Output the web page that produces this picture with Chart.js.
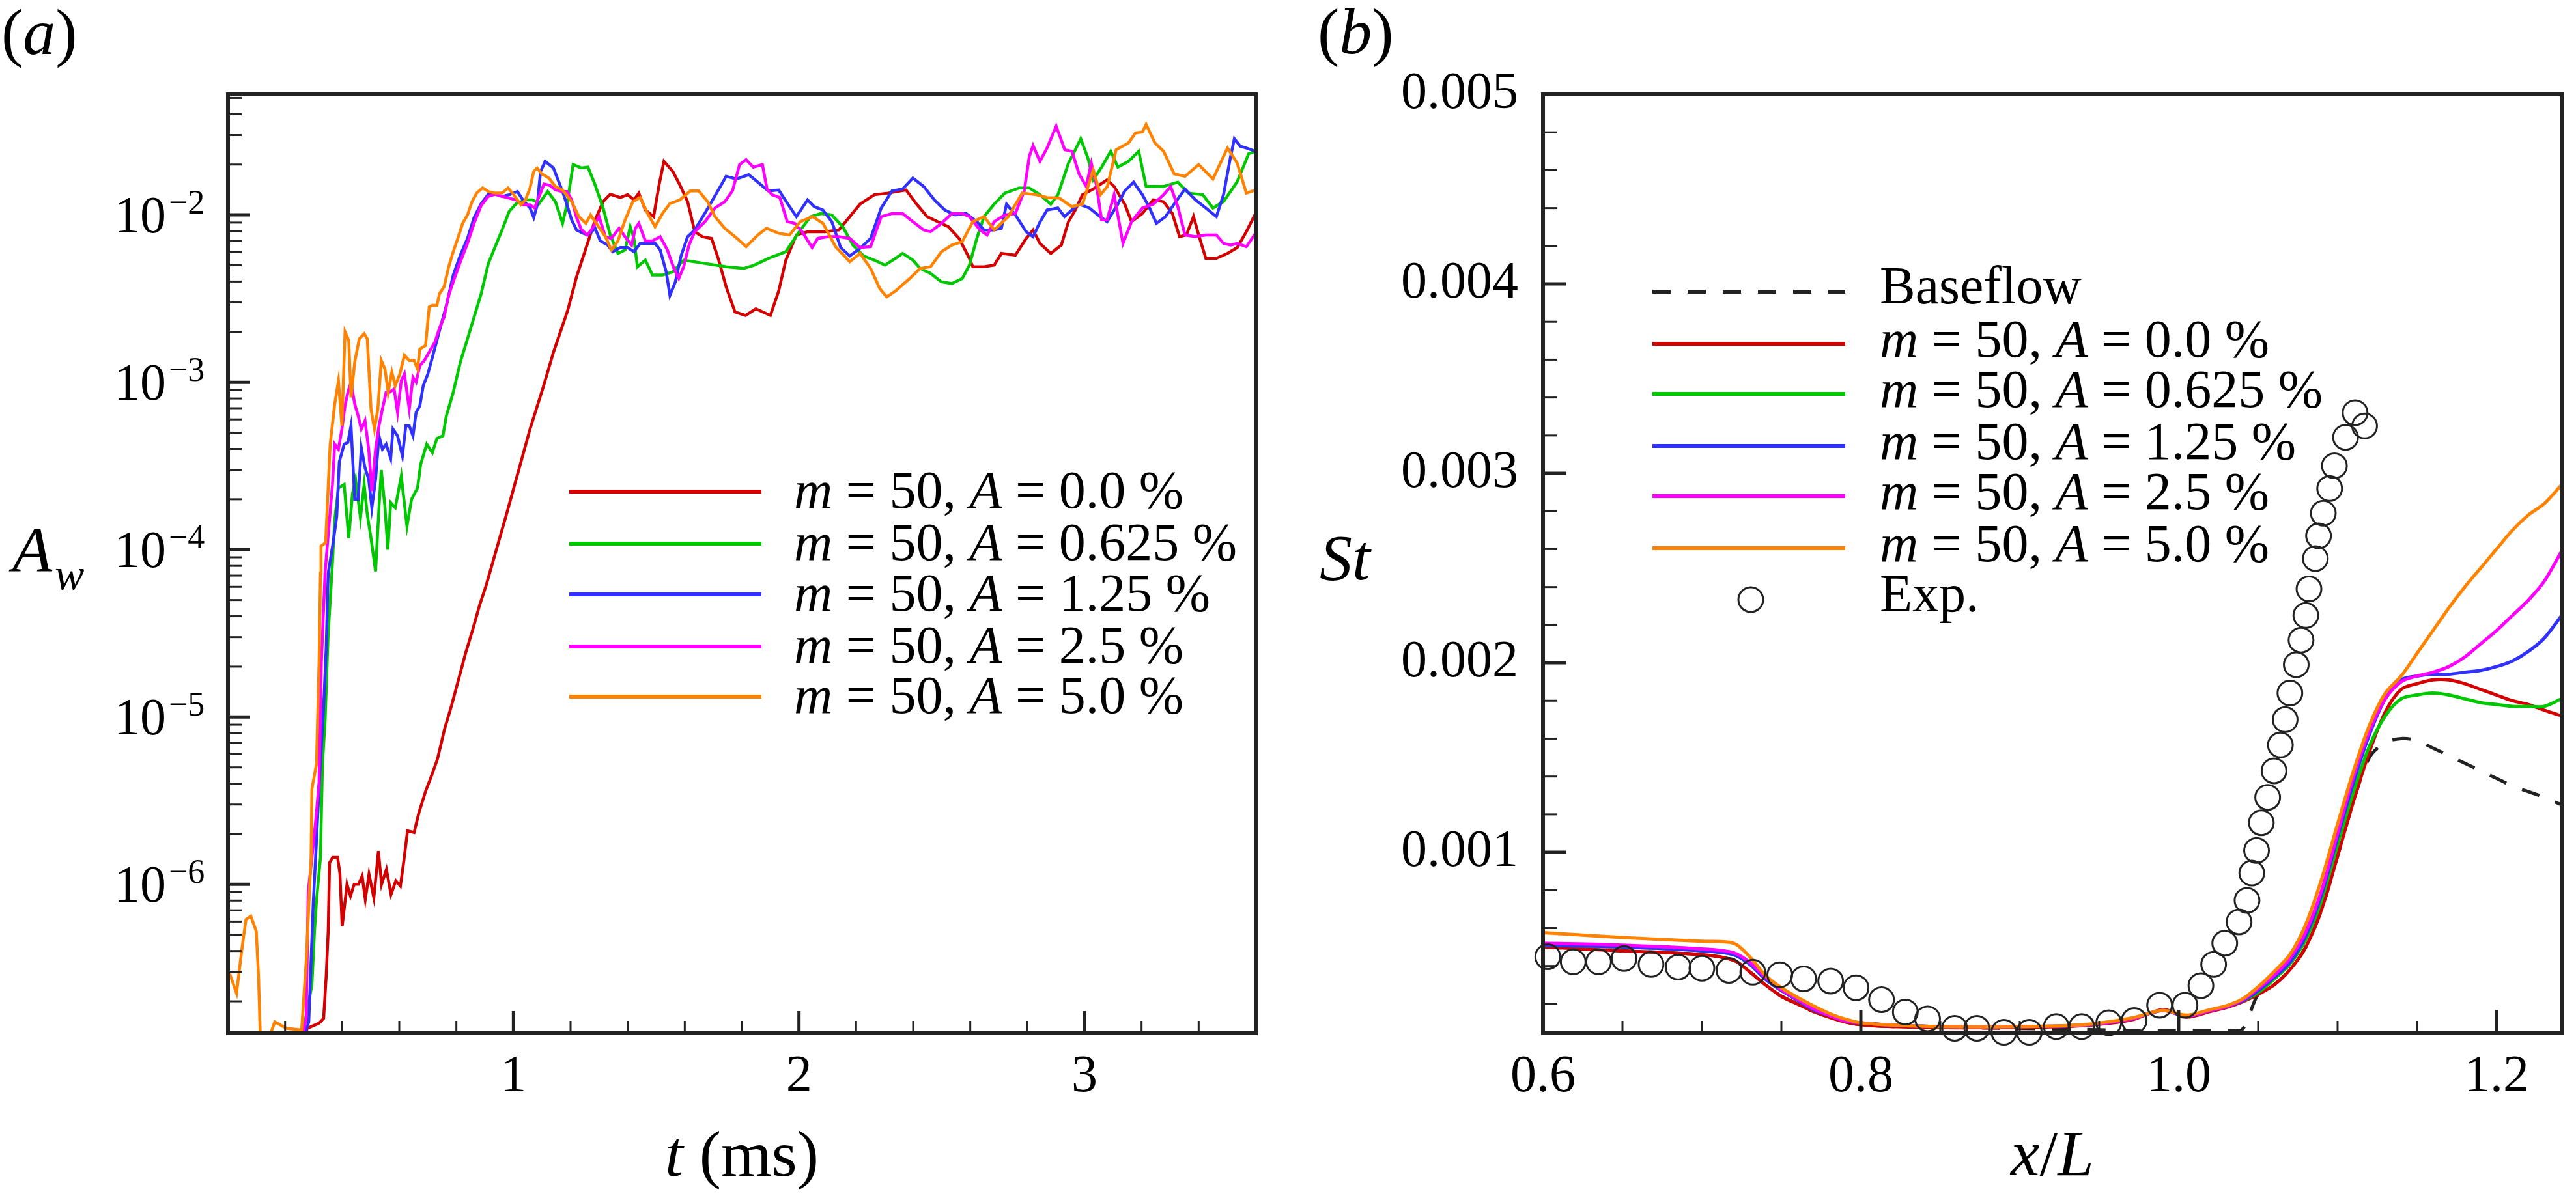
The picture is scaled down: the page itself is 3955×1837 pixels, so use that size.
<!DOCTYPE html>
<html lang="en">
<head>
<meta charset="UTF-8">
<title>Wall amplitude and Stanton number</title>
<script src="https://cdn.jsdelivr.net/npm/chart.js"></script>
<style>
    body {
        margin: 0;
        background: #ffffff;
        width: 3955px;
        height: 1837px;
        overflow: hidden;
        position: relative;
    }
    canvas { position: absolute; top: 0; }
    #chartA { left: 0; width: 1960px; height: 1837px; }
    #chartB { left: 1960px; width: 1995px; height: 1837px; }
</style>
</head>
<body>
<canvas id="chartA" width="1960" height="1837"></canvas>
<canvas id="chartB" width="1995" height="1837"></canvas>
<script>
// ---- panel (a): A_w against t (ms), one pair of arrays per case ----
const redT = [0.250, 0.278, 0.319, 0.335, 0.344, 0.351, 0.356, 0.367, 0.384, 0.392,
    0.400, 0.417, 0.429, 0.442, 0.457, 0.470, 0.481, 0.494, 0.511, 0.527,
    0.538, 0.555, 0.571, 0.588, 0.604, 0.616, 0.629, 0.652, 0.669, 0.693,
    0.709, 0.734, 0.759, 0.783, 0.807, 0.832, 0.857, 0.880, 0.905, 0.977,
    1.058, 1.104, 1.140, 1.190, 1.221, 1.252, 1.286, 1.314, 1.339, 1.374,
    1.400, 1.422, 1.439, 1.462, 1.491, 1.510, 1.527, 1.558, 1.583, 1.610,
    1.635, 1.662, 1.694, 1.719, 1.745, 1.776, 1.813, 1.849, 1.900, 1.929,
    1.954, 1.991, 2.030, 2.091, 2.140, 2.178, 2.214, 2.264, 2.312, 2.375,
    2.412, 2.449, 2.486, 2.523, 2.561, 2.597, 2.609, 2.648, 2.684, 2.709,
    2.758, 2.796, 2.820, 2.844, 2.882, 2.919, 2.944, 2.968, 2.993, 3.031,
    3.079, 3.104, 3.141, 3.165, 3.203, 3.241, 3.277, 3.308, 3.333, 3.357,
    3.382, 3.400, 3.425, 3.462, 3.501, 3.535, 3.567, 3.599];
const redA = [1.0e-7, 1.38e-7, 1.48e-7, 1.58e-7, 2.82e-7, 5.25e-7, 1.35e-6, 1.45e-6, 1.45e-6, 1.17e-6,
    5.62e-7, 1.00e-6, 8.51e-7, 1.00e-6, 1.00e-6, 1.12e-6, 8.13e-7, 1.15e-6, 8.32e-7, 1.58e-6,
    1.00e-6, 1.23e-6, 8.71e-7, 1.05e-6, 9.77e-7, 1.38e-6, 2.09e-6, 2.04e-6, 2.69e-6, 3.63e-6,
    4.27e-6, 5.62e-6, 8.51e-6, 1.17e-5, 1.66e-5, 2.40e-5, 3.31e-5, 4.57e-5, 6.17e-5, 1.66e-4,
    5.25e-4, 9.33e-4, 1.51e-3, 2.69e-3, 4.27e-3, 6.17e-3, 9.33e-3, 1.20e-2, 1.33e-2, 1.27e-2,
    1.32e-2, 1.23e-2, 1.35e-2, 1.07e-2, 9.77e-3, 1.51e-2, 2.09e-2, 1.82e-2, 1.51e-2, 1.20e-2,
    7.94e-3, 7.41e-3, 7.24e-3, 5.37e-3, 3.72e-3, 2.63e-3, 2.51e-3, 2.75e-3, 2.51e-3, 3.51e-3,
    5.37e-3, 7.59e-3, 7.94e-3, 7.94e-3, 8.13e-3, 9.77e-3, 1.16e-2, 1.32e-2, 1.35e-2, 1.41e-2,
    1.16e-2, 9.77e-3, 9.12e-3, 8.51e-3, 7.24e-3, 5.50e-3, 4.90e-3, 4.90e-3, 5.01e-3, 5.89e-3,
    5.75e-3, 7.24e-3, 8.13e-3, 6.76e-3, 5.89e-3, 6.61e-3, 9.12e-3, 1.07e-2, 1.32e-2, 1.43e-2,
    1.62e-2, 1.48e-2, 1.16e-2, 9.12e-3, 1.02e-2, 1.23e-2, 1.20e-2, 1.02e-2, 7.41e-3, 7.59e-3,
    9.77e-3, 7.59e-3, 5.50e-3, 5.50e-3, 5.89e-3, 6.38e-3, 7.94e-3, 1.02e-2];

const greenT = [0.250, 0.294, 0.303, 0.310, 0.324, 0.331, 0.340, 0.351, 0.364, 0.374,
    0.387, 0.407, 0.423, 0.436, 0.447, 0.464, 0.477, 0.488, 0.501, 0.517,
    0.529, 0.537, 0.550, 0.560, 0.570, 0.586, 0.607, 0.627, 0.643, 0.664,
    0.675, 0.696, 0.716, 0.732, 0.753, 0.765, 0.789, 0.814, 0.839, 0.862,
    0.887, 0.912, 0.936, 0.960, 0.985, 1.010, 1.042, 1.067, 1.090, 1.120,
    1.147, 1.172, 1.188, 1.209, 1.237, 1.261, 1.286, 1.314, 1.339, 1.366,
    1.391, 1.409, 1.422, 1.434, 1.462, 1.487, 1.522, 1.558, 1.596, 1.670,
    1.745, 1.806, 1.843, 1.893, 1.954, 2.005, 2.041, 2.078, 2.115, 2.153,
    2.189, 2.226, 2.264, 2.301, 2.338, 2.363, 2.399, 2.424, 2.461, 2.499,
    2.536, 2.572, 2.597, 2.623, 2.648, 2.684, 2.721, 2.771, 2.807, 2.844,
    2.882, 2.907, 2.944, 2.968, 2.987, 3.012, 3.031, 3.060, 3.092, 3.117,
    3.154, 3.190, 3.216, 3.277, 3.327, 3.364, 3.414, 3.450, 3.487, 3.535,
    3.575, 3.599];
const greenA = [1.0e-7, 2.51e-7, 5.25e-7, 7.94e-7, 1.45e-6, 5.25e-6, 9.33e-6, 3.16e-5, 7.24e-5, 1.51e-4,
    2.34e-4, 2.45e-4, 1.17e-4, 2.16e-4, 2.63e-4, 1.55e-4, 2.45e-4, 1.62e-4, 1.17e-4, 7.41e-5,
    1.78e-4, 2.99e-4, 1.78e-4, 1.00e-4, 1.91e-4, 1.78e-4, 2.75e-4, 1.38e-4, 2.00e-4, 2.34e-4,
    3.24e-4, 4.27e-4, 3.80e-4, 4.62e-4, 4.79e-4, 6.31e-4, 8.71e-4, 1.32e-3, 1.82e-3, 2.45e-3,
    3.39e-3, 5.13e-3, 6.46e-3, 8.13e-3, 1.05e-2, 1.17e-2, 1.23e-2, 1.23e-2, 1.17e-2, 1.38e-2,
    1.20e-2, 8.91e-3, 1.17e-2, 2.00e-2, 1.91e-2, 1.93e-2, 1.51e-2, 1.10e-2, 7.59e-3, 5.89e-3,
    6.17e-3, 8.51e-3, 7.24e-3, 4.90e-3, 5.37e-3, 4.37e-3, 4.37e-3, 4.57e-3, 5.37e-3, 5.13e-3,
    4.90e-3, 4.79e-3, 5.01e-3, 5.50e-3, 6.03e-3, 8.13e-3, 9.77e-3, 1.02e-2, 1.00e-2, 8.51e-3,
    6.61e-3, 5.69e-3, 5.37e-3, 5.01e-3, 5.50e-3, 5.89e-3, 5.37e-3, 4.79e-3, 4.47e-3, 3.98e-3,
    3.89e-3, 4.17e-3, 5.01e-3, 7.24e-3, 9.77e-3, 1.16e-2, 1.35e-2, 1.45e-2, 1.45e-2, 1.32e-2,
    1.16e-2, 1.32e-2, 2.04e-2, 2.45e-2, 2.85e-2, 2.19e-2, 1.62e-2, 1.93e-2, 2.40e-2, 1.93e-2,
    2.09e-2, 2.40e-2, 1.48e-2, 1.48e-2, 1.57e-2, 1.35e-2, 1.32e-2, 1.10e-2, 1.20e-2, 1.58e-2,
    2.32e-2, 2.40e-2];

const blueT = [0.250, 0.283, 0.291, 0.299, 0.307, 0.315, 0.323, 0.335, 0.344, 0.351,
    0.369, 0.381, 0.390, 0.407, 0.420, 0.431, 0.444, 0.456, 0.467, 0.480,
    0.493, 0.504, 0.517, 0.529, 0.541, 0.554, 0.570, 0.578, 0.594, 0.611,
    0.623, 0.635, 0.648, 0.659, 0.672, 0.684, 0.700, 0.716, 0.741, 0.765,
    0.789, 0.814, 0.839, 0.862, 0.887, 0.912, 0.936, 0.960, 0.985, 1.014,
    1.033, 1.058, 1.071, 1.083, 1.095, 1.111, 1.140, 1.156, 1.172, 1.188,
    1.204, 1.221, 1.245, 1.261, 1.286, 1.304, 1.330, 1.348, 1.374, 1.400,
    1.422, 1.444, 1.496, 1.514, 1.535, 1.548, 1.567, 1.587, 1.610, 1.635,
    1.670, 1.708, 1.745, 1.781, 1.824, 1.856, 1.893, 1.929, 1.961, 1.991,
    2.030, 2.054, 2.084, 2.115, 2.146, 2.178, 2.214, 2.251, 2.288, 2.326,
    2.363, 2.399, 2.437, 2.474, 2.511, 2.547, 2.585, 2.623, 2.648, 2.684,
    2.709, 2.727, 2.758, 2.796, 2.820, 2.845, 2.869, 2.907, 2.930, 2.956,
    2.981, 3.017, 3.055, 3.079, 3.117, 3.141, 3.172, 3.203, 3.228, 3.252,
    3.284, 3.314, 3.352, 3.389, 3.425, 3.462, 3.487, 3.512, 3.525, 3.546,
    3.567, 3.599];
const blueA = [1.0e-7, 1.51e-7, 3.47e-7, 7.94e-7, 1.45e-6, 2.69e-6, 5.01e-6, 1.15e-5, 2.57e-5, 7.24e-5,
    1.12e-4, 1.58e-4, 3.35e-4, 4.27e-4, 4.37e-4, 5.50e-4, 2.00e-4, 2.00e-4, 4.07e-4, 3.09e-4,
    2.63e-4, 1.78e-4, 2.63e-4, 4.79e-4, 3.98e-4, 4.27e-4, 3.51e-4, 5.25e-4, 4.79e-4, 3.63e-4,
    5.50e-4, 5.50e-4, 4.79e-4, 6.61e-4, 7.24e-4, 9.55e-4, 1.12e-3, 1.41e-3, 2.04e-3, 2.88e-3,
    4.37e-3, 5.75e-3, 7.24e-3, 9.66e-3, 1.17e-2, 1.33e-2, 1.33e-2, 1.29e-2, 1.32e-2, 1.38e-2,
    1.23e-2, 1.10e-2, 9.66e-3, 1.14e-2, 1.82e-2, 2.09e-2, 1.91e-2, 1.62e-2, 1.38e-2, 1.14e-2,
    9.33e-3, 8.13e-3, 7.76e-3, 7.59e-3, 8.32e-3, 7.00e-3, 6.61e-3, 6.03e-3, 6.38e-3, 6.38e-3,
    6.03e-3, 6.76e-3, 6.76e-3, 6.17e-3, 4.57e-3, 3.31e-3, 3.98e-3, 5.69e-3, 7.41e-3, 8.13e-3,
    1.02e-2, 1.32e-2, 1.70e-2, 1.64e-2, 1.74e-2, 1.57e-2, 1.39e-2, 1.41e-2, 1.16e-2, 9.77e-3,
    1.23e-2, 1.12e-2, 1.07e-2, 9.12e-3, 6.38e-3, 5.69e-3, 6.31e-3, 7.24e-3, 1.10e-2, 1.39e-2,
    1.43e-2, 1.66e-2, 1.48e-2, 1.23e-2, 1.07e-2, 1.00e-2, 1.02e-2, 9.12e-3, 8.13e-3, 8.13e-3,
    8.32e-3, 1.16e-2, 1.00e-2, 7.94e-3, 7.41e-3, 9.12e-3, 1.07e-2, 1.10e-2, 9.77e-3, 1.07e-2,
    1.16e-2, 1.10e-2, 9.77e-3, 9.12e-3, 1.16e-2, 1.39e-2, 1.57e-2, 1.32e-2, 1.10e-2, 8.91e-3,
    9.77e-3, 1.16e-2, 1.43e-2, 1.23e-2, 1.10e-2, 9.77e-3, 1.32e-2, 2.24e-2, 2.85e-2, 2.57e-2,
    2.51e-2, 2.40e-2];

const magentaT = [0.250, 0.274, 0.281, 0.300, 0.310, 0.319, 0.327, 0.340, 0.350, 0.366,
    0.374, 0.387, 0.399, 0.410, 0.420, 0.431, 0.444, 0.456, 0.467, 0.480,
    0.493, 0.504, 0.517, 0.529, 0.541, 0.554, 0.566, 0.582, 0.594, 0.607,
    0.618, 0.635, 0.648, 0.659, 0.672, 0.688, 0.708, 0.725, 0.741, 0.757,
    0.773, 0.789, 0.814, 0.839, 0.862, 0.887, 0.912, 0.936, 0.960, 0.985,
    1.009, 1.033, 1.058, 1.074, 1.090, 1.107, 1.128, 1.147, 1.172, 1.188,
    1.204, 1.221, 1.237, 1.258, 1.275, 1.300, 1.322, 1.343, 1.370, 1.391,
    1.414, 1.427, 1.439, 1.462, 1.487, 1.514, 1.539, 1.562, 1.579, 1.596,
    1.615, 1.635, 1.671, 1.706, 1.740, 1.767, 1.792, 1.815, 1.840, 1.872,
    1.888, 1.906, 1.933, 1.959, 1.985, 2.011, 2.046, 2.066, 2.103, 2.140,
    2.178, 2.214, 2.251, 2.288, 2.326, 2.363, 2.399, 2.437, 2.461, 2.499,
    2.536, 2.572, 2.597, 2.634, 2.659, 2.684, 2.721, 2.758, 2.789, 2.807,
    2.820, 2.844, 2.869, 2.901, 2.931, 2.956, 2.981, 3.006, 3.024, 3.042,
    3.060, 3.079, 3.104, 3.135, 3.165, 3.203, 3.241, 3.277, 3.302, 3.327,
    3.352, 3.389, 3.425, 3.462, 3.487, 3.512, 3.535, 3.567, 3.599];
const magentaA = [1.0e-7, 1.58e-7, 9.00e-7, 1.80e-6, 2.69e-6, 4.07e-6, 2.09e-5, 7.24e-5, 1.17e-4, 2.45e-4,
    4.27e-4, 3.98e-4, 5.25e-4, 7.24e-4, 8.71e-4, 1.00e-3, 7.41e-4, 6.31e-4, 5.25e-4, 5.89e-4,
    3.98e-4, 2.24e-4, 3.98e-4, 5.50e-4, 6.92e-4, 8.71e-4, 8.71e-4, 9.12e-4, 6.61e-4, 1.02e-3,
    1.12e-3, 6.92e-4, 1.07e-3, 1.00e-3, 1.26e-3, 1.35e-3, 1.55e-3, 1.74e-3, 2.11e-3, 2.45e-3,
    3.31e-3, 3.98e-3, 5.25e-3, 6.76e-3, 8.91e-3, 1.14e-2, 1.29e-2, 1.33e-2, 1.29e-2, 1.26e-2,
    1.23e-2, 1.15e-2, 1.15e-2, 1.10e-2, 1.29e-2, 1.53e-2, 1.50e-2, 1.41e-2, 1.38e-2, 1.38e-2,
    1.23e-2, 9.66e-3, 8.22e-3, 7.59e-3, 8.22e-3, 9.77e-3, 7.41e-3, 7.24e-3, 8.32e-3, 7.41e-3,
    6.61e-3, 8.32e-3, 8.91e-3, 7.00e-3, 7.00e-3, 7.41e-3, 6.17e-3, 4.79e-3, 4.17e-3, 4.90e-3,
    6.61e-3, 7.94e-3, 9.12e-3, 1.10e-2, 1.20e-2, 1.39e-2, 2.00e-2, 2.14e-2, 1.93e-2, 2.00e-2,
    1.43e-2, 1.32e-2, 1.27e-2, 9.12e-3, 8.91e-3, 7.94e-3, 6.38e-3, 7.24e-3, 7.41e-3, 7.41e-3,
    7.24e-3, 6.38e-3, 6.46e-3, 9.77e-3, 1.02e-2, 1.02e-2, 9.12e-3, 8.13e-3, 7.94e-3, 8.91e-3,
    1.02e-2, 1.02e-2, 9.77e-3, 8.13e-3, 7.59e-3, 9.12e-3, 1.00e-2, 1.02e-2, 1.39e-2, 2.24e-2,
    2.60e-2, 2.09e-2, 2.51e-2, 3.39e-2, 2.45e-2, 2.40e-2, 1.76e-2, 1.48e-2, 2.04e-2, 1.51e-2,
    9.33e-3, 9.33e-3, 1.32e-2, 6.76e-3, 9.12e-3, 1.10e-2, 1.16e-2, 1.32e-2, 1.48e-2, 1.12e-2,
    7.59e-3, 7.41e-3, 7.59e-3, 7.59e-3, 6.76e-3, 6.61e-3, 6.76e-3, 6.46e-3, 7.76e-3];

const orangeT = [0.006, 0.030, 0.050, 0.063, 0.080, 0.099, 0.107, 0.114, 0.137, 0.164,
    0.205, 0.258, 0.274, 0.291, 0.294, 0.310, 0.319, 0.324, 0.326, 0.342,
    0.358, 0.374, 0.387, 0.399, 0.410, 0.423, 0.431, 0.444, 0.460, 0.477,
    0.488, 0.501, 0.513, 0.525, 0.537, 0.550, 0.561, 0.574, 0.586, 0.602,
    0.618, 0.635, 0.652, 0.664, 0.672, 0.692, 0.705, 0.716, 0.732, 0.741,
    0.757, 0.773, 0.789, 0.805, 0.822, 0.839, 0.855, 0.871, 0.892, 0.912,
    0.936, 0.960, 0.981, 1.001, 1.026, 1.042, 1.058, 1.071, 1.083, 1.099,
    1.124, 1.147, 1.172, 1.204, 1.229, 1.254, 1.270, 1.322, 1.343, 1.366,
    1.391, 1.418, 1.444, 1.470, 1.496, 1.522, 1.548, 1.583, 1.619, 1.649,
    1.680, 1.706, 1.740, 1.783, 1.815, 1.856, 1.886, 1.929, 1.967, 2.005,
    2.048, 2.084, 2.128, 2.178, 2.214, 2.251, 2.283, 2.307, 2.338, 2.388,
    2.424, 2.461, 2.499, 2.536, 2.572, 2.609, 2.648, 2.684, 2.733, 2.782,
    2.832, 2.869, 2.912, 2.956, 2.993, 3.031, 3.056, 3.080, 3.111, 3.154,
    3.179, 3.203, 3.216, 3.247, 3.277, 3.314, 3.352, 3.400, 3.450, 3.501,
    3.535, 3.567, 3.599];
const orangeA = [2.93e-7, 2.24e-7, 4.27e-7, 6.17e-7, 6.46e-7, 5.25e-7, 2.82e-7, 1.12e-7, 1.12e-7, 1.51e-7,
    1.38e-7, 1.35e-7, 3.47e-7, 1.45e-6, 3.72e-6, 5.25e-6, 2.09e-5, 7.24e-5, 1.05e-4, 1.10e-4,
    4.27e-4, 7.41e-4, 1.02e-3, 5.50e-4, 2.00e-3, 1.78e-3, 8.13e-4, 1.32e-3, 1.82e-3, 1.95e-3,
    1.82e-3, 6.92e-4, 5.25e-4, 6.92e-4, 1.35e-3, 1.20e-3, 8.71e-4, 1.15e-3, 9.55e-4, 1.12e-3,
    1.45e-3, 1.35e-3, 1.35e-3, 1.20e-3, 1.58e-3, 1.66e-3, 2.82e-3, 2.88e-3, 2.88e-3, 3.39e-3,
    3.72e-3, 4.90e-3, 6.03e-3, 7.24e-3, 8.91e-3, 1.00e-2, 1.20e-2, 1.35e-2, 1.45e-2, 1.38e-2,
    1.35e-2, 1.35e-2, 1.45e-2, 1.32e-2, 1.15e-2, 1.23e-2, 1.45e-2, 1.82e-2, 1.91e-2, 1.76e-2,
    1.66e-2, 1.48e-2, 1.41e-2, 1.20e-2, 9.77e-3, 8.91e-3, 1.00e-2, 7.41e-3, 6.17e-3, 7.00e-3,
    9.33e-3, 1.20e-2, 1.27e-2, 1.02e-2, 8.51e-3, 1.02e-2, 1.17e-2, 1.23e-2, 1.39e-2, 1.39e-2,
    1.20e-2, 9.77e-3, 8.32e-3, 7.24e-3, 6.46e-3, 7.59e-3, 8.32e-3, 7.76e-3, 7.59e-3, 9.12e-3,
    9.77e-3, 8.91e-3, 6.46e-3, 5.25e-3, 5.89e-3, 4.79e-3, 3.63e-3, 3.24e-3, 3.51e-3, 4.17e-3,
    4.79e-3, 4.90e-3, 6.03e-3, 6.61e-3, 6.92e-3, 9.12e-3, 9.77e-3, 8.13e-3, 9.77e-3, 1.35e-2,
    1.32e-2, 1.27e-2, 1.26e-2, 1.12e-2, 1.16e-2, 1.86e-2, 1.32e-2, 1.48e-2, 2.45e-2, 2.69e-2,
    3.09e-2, 3.13e-2, 3.47e-2, 2.69e-2, 2.40e-2, 1.76e-2, 1.70e-2, 2.00e-2, 1.64e-2, 2.51e-2,
    2.04e-2, 1.35e-2, 1.41e-2];

// ---- panel (b): St against x/L ----
const bX = [0.60, 0.65, 0.70, 0.72, 0.73, 0.74, 0.75, 0.76, 0.77, 0.78,
    0.79, 0.80, 0.82, 0.85, 0.90, 0.94, 0.97, 0.99, 1.005, 1.02,
    1.03, 1.04, 1.05, 1.06, 1.07, 1.08, 1.09, 1.10, 1.11, 1.12,
    1.13, 1.14, 1.15, 1.16, 1.17, 1.18, 1.19, 1.20, 1.21, 1.22,
    1.23, 1.241];
const stBase = [0.00050, 0.00048, 0.00046, 0.00043, 0.00037, 0.00030, 0.00024, 0.00020, 0.00016, 0.00013,
    0.000105, 0.00009, 0.00008, 0.000075, 0.00007, 0.000065, 0.00006, 0.00006, 0.00006, 0.00006,
    0.00006, 0.000065, 0.00025, 0.00030, 0.00038, 0.00050, 0.00070, 0.00098, 0.00127, 0.00150,
    0.00158, 0.00160, 0.00159, 0.00155, 0.00151, 0.00147, 0.00143, 0.00139, 0.00135, 0.00132,
    0.00129, 0.00125];
const stRed = [0.00050, 0.00048, 0.00046, 0.00043, 0.00037, 0.00030, 0.00024, 0.00020, 0.00016, 0.00013,
    0.000105, 0.00009, 0.00008, 0.000075, 0.000075, 0.000085, 0.000115, 0.00017, 0.00013, 0.00016,
    0.00018, 0.00021, 0.00025, 0.00030, 0.00038, 0.00050, 0.00070, 0.00098, 0.00127, 0.00153,
    0.00174, 0.00186, 0.00189, 0.00191, 0.00191, 0.00189, 0.00186, 0.00183, 0.00180, 0.00178,
    0.00175, 0.00172];
const stGreen = [0.00051, 0.00050, 0.00048, 0.00046, 0.00041, 0.00033, 0.00027, 0.00022, 0.00017, 0.00014,
    0.00011, 0.00010, 0.000088, 0.00008, 0.00008, 0.000088, 0.00012, 0.000165, 0.000135, 0.000165,
    0.000185, 0.000215, 0.00026, 0.00033, 0.00041, 0.00054, 0.00075, 0.00104, 0.00132, 0.00156,
    0.00172, 0.00181, 0.00183, 0.00184, 0.00183, 0.00181, 0.00179, 0.00178, 0.00177, 0.00177,
    0.00177, 0.00181];
const stBlue = [0.00051, 0.00050, 0.00048, 0.00046, 0.00041, 0.00033, 0.00027, 0.00022, 0.00017, 0.00014,
    0.00011, 0.00010, 0.000088, 0.00008, 0.00008, 0.000088, 0.00012, 0.000165, 0.000135, 0.000165,
    0.000185, 0.000215, 0.00027, 0.00034, 0.00042, 0.00056, 0.00078, 0.00108, 0.00137, 0.00162,
    0.00181, 0.00191, 0.00193, 0.00194, 0.00194, 0.00195, 0.00196, 0.00198, 0.00201, 0.00206,
    0.00213, 0.00225];
const stMagenta = [0.00052, 0.00051, 0.00049, 0.00047, 0.00042, 0.00034, 0.000275, 0.000225, 0.000175, 0.00014,
    0.00011, 0.00010, 0.000088, 0.00008, 0.00008, 0.000088, 0.00012, 0.000165, 0.000135, 0.000165,
    0.000185, 0.00022, 0.00028, 0.00035, 0.00044, 0.00058, 0.00080, 0.00110, 0.00140, 0.00164,
    0.00181, 0.00190, 0.00193, 0.00195, 0.00198, 0.00203, 0.00210, 0.00217, 0.00225, 0.00233,
    0.00243, 0.00259];
const stOrange = [0.000576, 0.00055, 0.00053, 0.00052, 0.00045, 0.00035, 0.000285, 0.000235, 0.00019, 0.00015,
    0.00012, 0.00010, 0.000088, 0.00008, 0.00008, 0.00009, 0.000125, 0.000165, 0.00014, 0.00017,
    0.00019, 0.000225, 0.00029, 0.00037, 0.00046, 0.00062, 0.00086, 0.00115, 0.00143, 0.00167,
    0.00184, 0.00193, 0.00205, 0.00217, 0.00229, 0.00240, 0.00250, 0.00260, 0.00270, 0.00278,
    0.00284, 0.00294];
const expX = [0.603, 0.619, 0.635, 0.651, 0.668, 0.685, 0.700, 0.717, 0.732, 0.749,
    0.764, 0.781, 0.797, 0.813, 0.828, 0.842, 0.859, 0.873, 0.890, 0.906,
    0.923, 0.939, 0.956, 0.972, 0.988, 1.004, 1.014, 1.022, 1.029, 1.038,
    1.043, 1.046, 1.049, 1.052, 1.056, 1.060, 1.064, 1.067, 1.070, 1.074,
    1.077, 1.080, 1.082, 1.086, 1.088, 1.091, 1.095, 1.098, 1.105, 1.111,
    1.117];
const expSt = [0.000449, 0.000422, 0.000422, 0.000439, 0.000408, 0.000394, 0.000388, 0.000377, 0.000367, 0.000353,
    0.000332, 0.000320, 0.000285, 0.000222, 0.000157, 0.000121, 0.000071, 0.000071, 0.000050, 0.000050,
    0.000080, 0.000080, 0.000100, 0.000112, 0.000193, 0.000193, 0.000296, 0.000408, 0.000520, 0.000633,
    0.000746, 0.000890, 0.001010, 0.001156, 0.001290, 0.001430, 0.001566, 0.001700, 0.001840, 0.001990,
    0.002120, 0.002250, 0.002390, 0.002550, 0.002670, 0.002790, 0.002920, 0.003040, 0.003190, 0.003320,
    0.003250];

// tick labels and case names
const aXTicks = [1, 2, 3];
const aYTicks = [1e-6, 1e-5, 1e-4, 1e-3, 1e-2];
const bXTicks = [0.6, 0.8, 1.0, 1.2];
const bYTicks = [0.001, 0.002, 0.003, 0.004, 0.005];
const caseAmps = ['0.0', '0.625', '1.25', '2.5', '5.0'];
const caseColors = ['#d40000', '#00c800', '#3030ff', '#ff00ff', '#ff8200'];

const serif = '"Liberation Serif", "Times New Roman", serif';
Chart.defaults.font.family = serif;
Chart.defaults.color = '#000';

function toPoints(xs, ys) {
    const n = Math.min(xs.length, ys.length);
    const pts = [];
    for (let i = 0; i < n; i++) pts.push({ x: xs[i], y: ys[i] });
    return pts;
}

function tick(ctx, x1, y1, x2, y2, w) {
    ctx.lineWidth = w;
    ctx.beginPath();
    ctx.moveTo(x1, y1);
    ctx.lineTo(x2, y2);
    ctx.stroke();
}

function drawFrame(ctx, ca) {
    ctx.strokeStyle = '#222';
    ctx.lineWidth = 6;
    ctx.strokeRect(ca.left, ca.top, ca.right - ca.left, ca.bottom - ca.top);
}

// text made of [string, italic] pieces
function richText(ctx, parts, x, y, size, align) {
    const fontOf = p => (p[1] ? 'italic ' : '') + size + 'px ' + serif;
    let w = 0;
    parts.forEach(p => { ctx.font = fontOf(p); w += ctx.measureText(p[0]).width; });
    let cx = align === 'center' ? x - w / 2 : x;
    ctx.textAlign = 'left';
    parts.forEach(p => {
        ctx.font = fontOf(p);
        ctx.fillText(p[0], cx, y);
        cx += ctx.measureText(p[0]).width;
    });
}

function caseLabel(amp) {
    return [['m', true], [' = 50, ', false], ['A', true], [' = ' + amp + ' %', false]];
}

function legendLine(ctx, x1, x2, y, color, dash) {
    ctx.save();
    ctx.strokeStyle = color;
    ctx.lineWidth = 6;
    ctx.setLineDash(dash || []);
    ctx.beginPath();
    ctx.moveTo(x1, y);
    ctx.lineTo(x2, y);
    ctx.stroke();
    ctx.restore();
}

// frame, inward ticks, 10^n labels, titles and legend of panel (a)
const panelAPlugin = {
    id: 'panelA',
    afterDraw(chart) {
        const ctx = chart.ctx, ca = chart.chartArea;
        const sx = chart.scales.x, sy = chart.scales.y;
        ctx.save();
        drawFrame(ctx, ca);
        for (let k = 1; k * 0.2 < sx.max; k++) {
            const px = sx.getPixelForValue(k * 0.2);
            const major = k % 5 === 0;
            tick(ctx, px, ca.bottom, px, ca.bottom - (major ? 34 : 19), major ? 5 : 3);
        }
        for (let e = -7; e <= -2; e++) {
            for (let m = 1; m <= 9; m++) {
                const v = m * Math.pow(10, e);
                if (v <= sy.min || v >= sy.max) continue;
                const py = sy.getPixelForValue(v);
                tick(ctx, ca.left, py, ca.left + (m === 1 ? 34 : 21), py, m === 1 ? 5 : 3);
            }
        }
        ctx.fillStyle = '#000';
        ctx.textBaseline = 'alphabetic';
        aYTicks.forEach(v => {
            const py = sy.getPixelForValue(v);
            const e = Math.round(Math.log10(v));
            ctx.font = '80px ' + serif;
            ctx.textAlign = 'right';
            ctx.fillText('10', 255, py + 27);
            ctx.font = '52px ' + serif;
            ctx.textAlign = 'left';
            ctx.fillText('\u2212' + Math.abs(e), 259, py - 2);
        });
        // axis titles
        richText(ctx, [['t', true], [' (ms)', false]], (ca.left + ca.right) / 2, 1806, 100, 'center');
        richText(ctx, [['A', true]], 19, 878, 100, 'left');
        richText(ctx, [['w', true]], 84, 905, 68, 'left');
        richText(ctx, [['(', false], ['a', true], [')', false]], 2, 83, 100, 'left');
        // legend
        const rows = [755, 835, 913, 993, 1070];
        ctx.textBaseline = 'middle';
        rows.forEach((y, i) => {
            legendLine(ctx, 874, 1169, y, caseColors[i]);
            richText(ctx, caseLabel(caseAmps[i]), 1219, y + 3, 82, 'left');
        });
        ctx.restore();
    }
};

// same for panel (b); canvas starts at x = 1960 of the page
const panelBPlugin = {
    id: 'panelB',
    afterDraw(chart) {
        const ctx = chart.ctx, ca = chart.chartArea;
        const sx = chart.scales.x, sy = chart.scales.y;
        ctx.save();
        drawFrame(ctx, ca);
        for (let k = 13; k * 0.05 < sx.max; k++) {
            const px = sx.getPixelForValue(k * 0.05);
            const major = k % 4 === 0;
            tick(ctx, px, ca.bottom, px, ca.bottom - (major ? 36 : 19), major ? 5 : 3);
        }
        for (let k = 1; k < 25; k++) {
            const v = k * 0.0002;
            if (v <= sy.min) continue;
            const py = sy.getPixelForValue(v);
            const major = k % 5 === 0;
            tick(ctx, ca.left, py, ca.left + (major ? 36 : 22), py, major ? 5 : 3);
        }
        ctx.fillStyle = '#000';
        ctx.textBaseline = 'alphabetic';
        richText(ctx, [['St', true]], 66, 890, 100, 'left');
        richText(ctx, [['x', true], ['/', false], ['L', true]], (ca.left + ca.right) / 2, 1805, 100, 'center');
        richText(ctx, [['(', false], ['b', true], [')', false]], 63, 82, 100, 'left');
        // legend
        const rows = [448, 528, 605, 685, 762, 842, 921];
        const x1 = 577, x2 = 873, tx = 926;
        ctx.textBaseline = 'middle';
        legendLine(ctx, x1, x2, rows[0], '#222', [28, 26]);
        richText(ctx, [['Baseflow', false]], tx, rows[0] - 4, 82, 'left');
        caseAmps.forEach((amp, i) => {
            legendLine(ctx, x1, x2, rows[i + 1], caseColors[i]);
            richText(ctx, caseLabel(amp), tx, rows[i + 1] - 2, 82, 'left');
        });
        ctx.strokeStyle = '#222';
        ctx.lineWidth = 3;
        ctx.beginPath();
        ctx.arc(728, rows[6], 19, 0, Math.PI * 2);
        ctx.stroke();
        richText(ctx, [['Exp.', false]], tx, rows[6] - 4, 82, 'left');
        ctx.restore();
    }
};

// panel (a)
const seriesA = [[redT, redA], [greenT, greenA], [blueT, blueA], [magentaT, magentaA], [orangeT, orangeA]];
new Chart(document.getElementById('chartA'), {
    type: 'line',
    data: {
        datasets: seriesA.map((s, i) => ({
            label: 'm = 50, A = ' + caseAmps[i] + ' %',
            data: toPoints(s[0], s[1]),
            borderColor: caseColors[i],
            borderWidth: 4.5,
            pointRadius: 0,
            tension: 0,
            fill: false,
            order: 5 - i
        }))
    },
    options: {
        responsive: false,
        animation: false,
        devicePixelRatio: 1,
        layout: { padding: { top: 145, right: 32, left: 0, bottom: 0 } },
        plugins: { legend: { display: false }, tooltip: { enabled: false } },
        scales: {
            x: {
                type: 'linear', min: 0, max: 3.6,
                grid: { display: false, drawTicks: false },
                border: { display: false },
                afterBuildTicks: s => { s.ticks = aXTicks.map(v => ({ value: v })); },
                afterFit: s => { s.height = 250; },
                ticks: { font: { size: 80 }, padding: 20, color: '#000', maxRotation: 0, autoSkip: false,
                         callback: v => String(v) }
            },
            y: {
                type: 'logarithmic', min: 1.29e-7, max: 0.0525,
                grid: { display: false, drawTicks: false },
                border: { display: false },
                ticks: { display: false },
                afterFit: s => { s.width = 350; }
            }
        }
    },
    plugins: [panelAPlugin]
});

// panel (b)
const seriesB = [stRed, stGreen, stBlue, stMagenta, stOrange];
const datasetsB = seriesB.map((st, i) => ({
    label: 'm = 50, A = ' + caseAmps[i] + ' %',
    data: toPoints(bX, st),
    borderColor: caseColors[i],
    borderWidth: 5,
    pointRadius: 0,
    tension: 0.3,
    fill: false,
    order: 5 - i
}));
datasetsB.push({
    label: 'Baseflow',
    data: toPoints(bX, stBase),
    borderColor: '#222',
    borderWidth: 5,
    borderDash: [28, 26],
    pointRadius: 0,
    tension: 0.3,
    fill: false,
    order: 10
});
datasetsB.push({
    label: 'Exp.',
    data: toPoints(expX, expSt),
    showLine: false,
    pointRadius: 19,
    pointBorderWidth: 3,
    pointBorderColor: '#222',
    pointBackgroundColor: 'rgba(0,0,0,0)',
    clip: false,
    order: 0
});

new Chart(document.getElementById('chartB'), {
    type: 'line',
    data: { datasets: datasetsB },
    options: {
        responsive: false,
        animation: false,
        devicePixelRatio: 1,
        layout: { padding: { top: 145, right: 11, left: 0, bottom: 0 } },
        plugins: { legend: { display: false }, tooltip: { enabled: false } },
        scales: {
            x: {
                type: 'linear', min: 0.6, max: 1.241,
                grid: { display: false, drawTicks: false },
                border: { display: false },
                afterBuildTicks: s => { s.ticks = bXTicks.map(v => ({ value: v })); },
                afterFit: s => { s.height = 250; },
                ticks: { font: { size: 80 }, padding: 20, color: '#000', maxRotation: 0, autoSkip: false,
                         callback: v => v.toFixed(1) }
            },
            y: {
                type: 'linear', min: 0.000045, max: 0.005,
                grid: { display: false, drawTicks: false },
                border: { display: false },
                afterBuildTicks: s => { s.ticks = bYTicks.map(v => ({ value: v })); },
                afterFit: s => { s.width = 409; },
                ticks: { font: { size: 80 }, padding: 38, color: '#000', autoSkip: false,
                         callback: v => v.toFixed(3) }
            }
        }
    },
    plugins: [panelBPlugin]
});
</script>
</body>
</html>
